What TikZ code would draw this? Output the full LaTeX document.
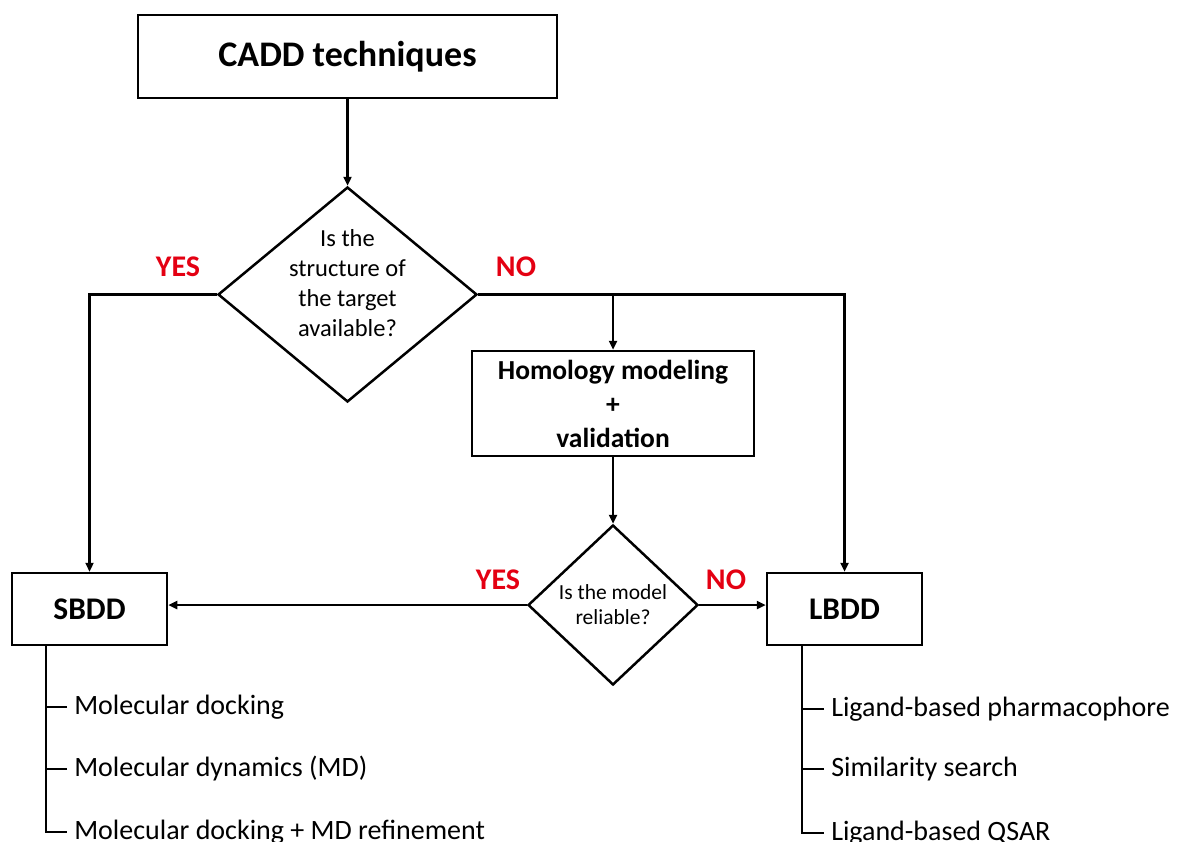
\documentclass[tikz,border=0pt]{standalone}
\usepackage{fontspec}
\setmainfont{Carlito}
\usetikzlibrary{positioning,shapes.geometric,arrows.meta}
\definecolor{myred}{RGB}{228,0,18}

\begin{document}
\begin{tikzpicture}[x=1pt,y=-1pt,line width=2.5pt,
  >={Triangle[length=9pt,width=8pt]},
  box/.style={draw,rectangle,inner sep=0pt,align=center},
  ask/.style={draw,diamond,inner sep=0pt},
  answer/.style={text=myred,font=\fontsize{30}{32}\selectfont\bfseries},
  item/.style={anchor=west,inner sep=6pt,font=\fontsize{28}{30}\selectfont}]

  \useasboundingbox (0,0) rectangle (1178,841);

  \node[box,minimum width=419pt,minimum height=83pt,font=\fontsize{36}{38}\selectfont\bfseries] (cadd) at (347.5,56.5) {CADD techniques};

  \node[ask,minimum width=259pt,minimum height=215pt] (struct) at (347.5,294.5) {};
  \node[align=center,font=\fontsize{24.5}{30}\selectfont] (struct-q) at ([yshift=11pt]struct.center)
    {Is the\\structure of\\the target\\available?};

  \node[box,minimum width=282pt,minimum height=105pt,font=\fontsize{27.5}{34}\selectfont\bfseries] (homol) at (613,403.5)
    {Homology modeling\\+\\validation};

  \node[ask,minimum width=170pt,minimum height=160pt] (model) at (613,605) {};
  \node[align=center,font=\fontsize{21.5}{25}\selectfont] (model-q) at (model.center)
    {Is the model\\reliable?};

  \node[box,minimum width=155pt,minimum height=72pt,font=\fontsize{31.5}{32}\selectfont\bfseries] (sbdd) at (89.5,609) {SBDD};
  \node[box,minimum width=155pt,minimum height=72pt,font=\fontsize{31.5}{32}\selectfont\bfseries] (lbdd) at (844.5,609) {LBDD};

  % answers
  \node[answer] (yes1) at (178,267) {YES};
  \node[answer] (no1) at (516,267) {NO};
  \node[answer] (yes2) at (498,580) {YES};
  \node[answer] (no2) at (726,580) {NO};

  % flow arrows
  \draw[->] (cadd) -- (struct.north);
  \draw[->] (struct.west) -| (sbdd.north);
  \draw[->] (struct.east) -| (lbdd.north);
  \draw[->] (struct.east -| homol.north) -- (homol.north);
  \draw[->] (homol) -- (model.north);
  \draw[->] (model.west) -- (sbdd.east |- model.west);
  \draw[->] (model.east) -- (lbdd.west |- model.east);

  % methods under SBDD
  \node[item] (dock) at (67,707) {Molecular docking};
  \node[item] (md) at (67,769) {Molecular dynamics (MD)};
  \node[item] (dockmd) at (67,832) {Molecular docking + MD refinement};
  \coordinate (strunk) at (46,645);
  \draw (strunk) |- (dockmd.west);
  \draw (dock.west) -- (dock.west -| strunk)
    (md.west) -- (md.west -| strunk);

  % methods under LBDD
  \node[item] (pharm) at (824,709) {Ligand-based pharmacophore};
  \node[item] (simil) at (824,769) {Similarity search};
  \node[item] (qsar) at (824,833) {Ligand-based QSAR};
  \coordinate (ltrunk) at (802,645);
  \draw (ltrunk) |- (qsar.west);
  \draw (pharm.west) -- (pharm.west -| ltrunk)
    (simil.west) -- (simil.west -| ltrunk);

\end{tikzpicture}
\end{document}
